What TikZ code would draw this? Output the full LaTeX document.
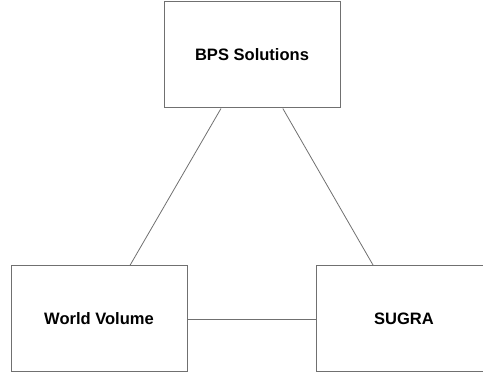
\documentclass[tikz,border=0pt]{standalone}
\usepackage{fontspec}
\setmainfont{Liberation Sans}
\usepackage{xcolor}
\usepackage{tikz}
\usetikzlibrary{positioning}

\definecolor{edgegray}{RGB}{112,112,112}

\begin{document}
\begin{tikzpicture}[x=0.75pt, y=-0.75pt, font=\bfseries\fontsize{12.4}{14}\selectfont,
    topicbox/.style={draw=edgegray, line width=0.75pt, minimum width=132pt, minimum height=79.5pt, inner sep=0pt},
    link/.style={draw=edgegray, line width=0.6pt}]
  % page frame, the right box runs past it
  \useasboundingbox (0,0) rectangle (483,374);
  \clip (0,0) rectangle (483,374);

  % Three topics
  \node[topicbox] (bps) at (252, 55) {BPS Solutions};
  \node[topicbox] (wv) at (99, 319) {World Volume};
  \node[topicbox] (sugra) at (404, 319) {SUGRA};

  % Links between them
  \draw[link] (bps) -- (wv);
  \draw[link] (bps) -- (sugra);
  \draw[link] (wv) -- (sugra);
\end{tikzpicture}
\end{document}
